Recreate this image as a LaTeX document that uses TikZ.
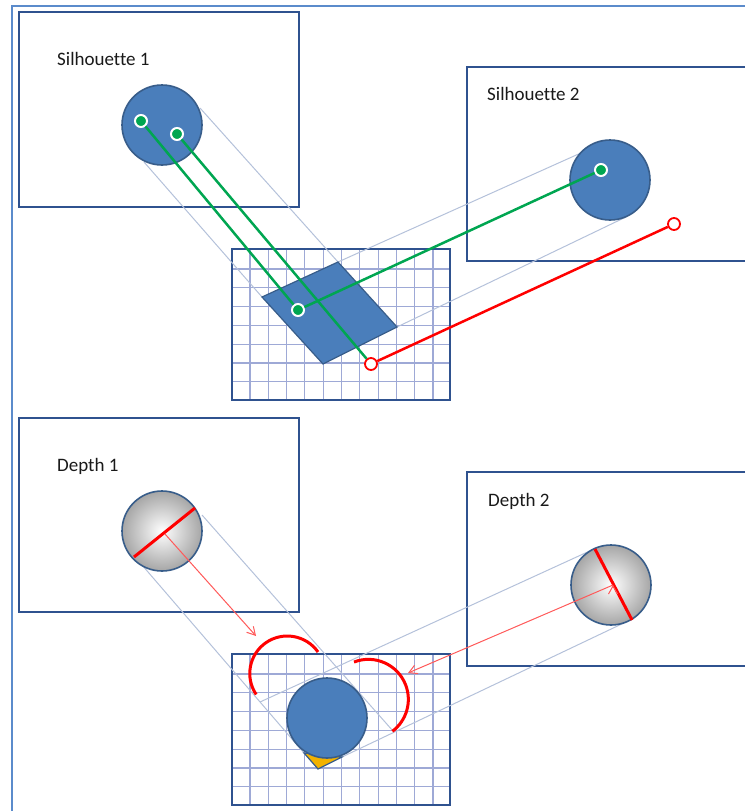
\documentclass[tikz,border=0pt]{standalone}
\usepackage{fontspec}
\setmainfont[Ligatures=NoCommon]{Carlito}
\usetikzlibrary{arrows.meta}
\definecolor{panelblue}{HTML}{2F528F}
\definecolor{fillblue}{HTML}{4A7EBB}
\definecolor{edgeblue}{HTML}{385D8A}
\definecolor{frameblue}{HTML}{5B8BCB}
\definecolor{gridblue}{HTML}{9EA9D6}
\definecolor{rayblue}{HTML}{B4C1DA}
\definecolor{hitgreen}{HTML}{00A651}
\definecolor{tipyellow}{HTML}{F2B200}
\tikzset{
    panel/.style={draw=panelblue, line width=1.8pt, outer sep=0pt},
    caption/.style={font=\fontsize{19}{22}\selectfont, text=black!90, anchor=west, inner sep=0pt},
    blob/.style={circle, draw=edgeblue, line width=1.6pt, fill=fillblue, minimum size=80pt, inner sep=0pt},
    ball/.style={circle, draw=edgeblue, line width=1.6pt, inner color=white, outer color=black!35, minimum size=80pt, inner sep=0pt},
    gdot/.style={circle, draw=white, line width=2pt, fill=hitgreen, minimum size=12pt, inner sep=0pt},
    rdot/.style={circle, draw=red, line width=1.8pt, fill=white, minimum size=12pt, inner sep=0pt},
    ray/.style={draw=rayblue, line width=1pt},
    gline/.style={draw=hitgreen, line width=2.5pt},
    rline/.style={draw=red, line width=2.5pt},
    rthick/.style={draw=red, line width=3pt},
    pointer/.style={-{Straight Barb[length=8pt,width=9pt]}, draw=red!65, line width=1pt},
    cell/.style={draw=gridblue, line width=1.1pt},
}
\begin{document}
\begin{tikzpicture}[x=1pt, y=-1pt]
    \useasboundingbox (0,0) rectangle (745,811);
    % outer frame
    \coordinate (framea) at (12,811);
    \coordinate (frameb) at (12,6);
    \coordinate (framec) at (745,6);
    \draw [frameblue, line width=1.6pt] (framea) -- (frameb) -- (framec);

    % silhouette panels
    \node [panel, minimum width=280pt, minimum height=195pt, anchor=north west] (sone) at (19,12) {};
    \draw [panel] (745,67) -- (467,67) -- (467,261) -- (745,261);
    \node [caption] (sonetext) at (57,59) {Silhouette 1};
    \node [caption] (stwotext) at (487,94) {Silhouette 2};

    % upper grid
    \foreach \x in {0,...,10} \draw [cell] ({250+18.3*\x},249) -- ({250+18.3*\x},400);
    \foreach \y in {0,...,6} \draw [cell] (232,{269+18.8*\y}) -- (450,{269+18.8*\y});
    \node [panel, minimum width=218pt, minimum height=151pt, anchor=north west] (gridone) at (232,249) {};

    % carved region
    \coordinate (pa) at (262,297);
    \coordinate (pb) at (338,262);
    \coordinate (pc) at (397,327);
    \coordinate (pd) at (323,364);
    \coordinate (ta) at (144,162);
    \coordinate (tb) at (200,108);
    \coordinate (tc) at (583,152);
    \coordinate (td) at (626,217);
    \path [ray] (ta) edge (pa) (tb) edge (pb) (tc) edge (pb) (td) edge (pc);
    \draw [fill=fillblue, draw=edgeblue, line width=1.2pt] (pa) -- (pb) -- (pc) -- (pd) -- cycle;

    \node [blob] (sil one) at (162,125) {};
    \node [blob] (sil two) at (610,180) {};

    \node [gdot] (gone) at (141,121) {};
    \node [gdot] (gtwo) at (177,134) {};
    \node [gdot] (gthree) at (601,170) {};
    \node [gdot] (ghit) at (298,310) {};
    \node [rdot] (rhit) at (371,364) {};
    \node [rdot] (rout) at (674,224) {};
    \path [gline] (gone) edge (ghit) (gtwo) edge (rhit) (gthree) edge (ghit);
    \path [rline] (rout) edge (rhit);

    % depth panels
    \node [panel, minimum width=280pt, minimum height=194pt, anchor=north west] (done) at (19,418) {};
    \draw [panel] (745,472) -- (467,472) -- (467,666) -- (745,666);
    \node [caption] (donetext) at (57,466) {Depth 1};
    \node [caption] (dtwotext) at (488,501) {Depth 2};

    % lower grid
    \foreach \x in {0,...,10} \draw [cell] ({250+18.3*\x},654) -- ({250+18.3*\x},805);
    \foreach \y in {0,...,6} \draw [cell] (232,{674+18.8*\y}) -- (450,{674+18.8*\y});
    \node [panel, minimum width=218pt, minimum height=151pt, anchor=north west] (gridtwo) at (232,654) {};

    \coordinate (ua) at (142,565);
    \coordinate (ub) at (202,515);
    \coordinate (uc) at (594,549);
    \coordinate (ud) at (628,621);
    \coordinate (va) at (304,753);
    \coordinate (vb) at (393,731);
    \coordinate (vc) at (260,702);
    \coordinate (vd) at (318,769);
    \coordinate (ve) at (342,757);
    \path [ray] (ua) edge (va) (ub) edge (vb) (uc) edge (vc) (ud) edge (ve);

    \draw [fill=tipyellow, draw=edgeblue, line width=1.2pt] (va) -- (vd) -- (ve) -- cycle;
    \node [blob] (hull) at (327,718) {};

    \node [ball] (ball one) at (162,531) {};
    \node [ball] (ball two) at (611,585) {};
    \coordinate (dia) at (134,557);
    \coordinate (dib) at (195,508);
    \coordinate (dic) at (595,549);
    \coordinate (did) at (632,620);
    \path [rline, line width=3pt] (dia) edge (dib) (dic) edge (did);

    % depth arcs
    \coordinate (arcl) at (318,652);
    \coordinate (arcr) at (354,662);
    \draw [rthick] (arcl) arc [start angle=-35, end angle=-214, radius=37.5];
    \draw [rthick] (arcr) arc [start angle=-111, end angle=53, radius=40];

    \coordinate (aima) at (165,534);
    \coordinate (aimb) at (256,636);
    \coordinate (aimc) at (613,585);
    \coordinate (aimd) at (408,673);
    \path [pointer] (aima) edge (aimb) (aimc) edge (aimd);
\end{tikzpicture}
\end{document}
